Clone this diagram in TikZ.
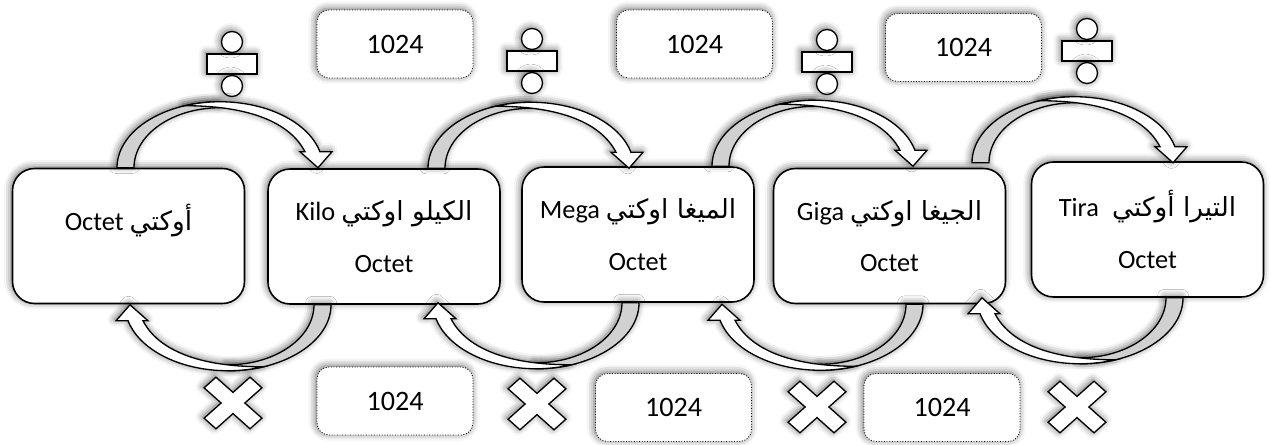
\documentclass[tikz,border=0pt]{standalone}
\usepackage{fontspec}
\setmainfont{Carlito}
\TeXXeTstate=1
\newfontfamily\arabicfont[Script=Arabic]{DejaVu Sans}
\usetikzlibrary{calc,shadows.blur}

\tikzset{
    glow/.style={blur shadow={shadow xshift=-0.8pt, shadow yshift=0.8pt, shadow blur radius=4pt, shadow opacity=60}},
    unitbox/.style={rectangle, draw, line width=0.9pt, fill=white, rounded corners=0.44cm,
        minimum width=4.64cm, minimum height=2.7cm, align=center,
        font=\fontsize{15}{29.5}\selectfont, glow},
    factorbox/.style={rectangle, draw, densely dotted, line width=0.5pt, fill=white, rounded corners=0.24cm,
        minimum width=3.12cm, minimum height=1.36cm, font=\fontsize{16}{19}\selectfont, glow},
    overarc/.pic={
        % shadows
        \path[glow, fill=white] (-8,0) arc[start angle=180, end angle=270, x radius=103, y radius=66]
            -- (95,-60) arc[start angle=270, end angle=180, x radius=86, y radius=60] -- cycle;
        \path[glow, fill=white] (59.8,-62) arc[start angle=250, end angle=346, x radius=103, y radius=66]
            -- (207,-16) -- (193,0) -- (175,-16) -- (180,-16) .. controls (165,-45) and (125,-62) .. (59.8,-62) -- cycle;
        % back face
        \filldraw[fill=black!18, line width=0.75pt] (-8,0) arc[start angle=180, end angle=270, x radius=103, y radius=66]
            -- (95,-60) arc[start angle=270, end angle=180, x radius=86, y radius=60] -- cycle;
        % front face with head
        \filldraw[fill=white, line width=0.75pt, line join=miter] (59.8,-62) arc[start angle=250, end angle=346, x radius=103, y radius=66]
            -- (207,-16) -- (193,0) -- (175,-16) -- (180,-16) .. controls (165,-45) and (125,-62) .. (59.8,-62) -- cycle;
    },
    divsign/.pic={
        \filldraw[fill=white, line width=0.75pt, glow] (-25,-10) rectangle (25,10);
        \filldraw[fill=white, line width=0.75pt, glow] (0,-22) circle[radius=10.5];
        \filldraw[fill=white, line width=0.75pt, glow] (0,22) circle[radius=10.5];
    },
    mulsign/.pic={
        \filldraw[fill=white, line width=0.75pt, glow, xscale=1.12, rotate=45]
            (7.5,7.5) -- (7.5,29) -- (-7.5,29) -- (-7.5,7.5) -- (-29,7.5) -- (-29,-7.5) -- (-7.5,-7.5)
            -- (-7.5,-29) -- (7.5,-29) -- (7.5,-7.5) -- (29,-7.5) -- (29,7.5) -- cycle;
    },
}

\begin{document}
\begin{tikzpicture}[x=0.02cm, y=-0.02cm]
    \useasboundingbox (0,0) rectangle (1271,444);

    % units
    \node[unitbox] (b1) at (128.5,236) {\raisebox{9pt}[\height][\depth]{Octet {\arabicfont\beginR أوكتي\endR}}};
    \node[unitbox] (b2) at (384,236.5) {Kilo {\arabicfont\beginR الكيلو اوكتي\endR}\\Octet};
    \node[unitbox] (b3) at (638,234.5) {Mega {\arabicfont\beginR الميغا اوكتي\endR}\\Octet};
    \node[unitbox] (b4) at (889.5,236) {Giga {\arabicfont\beginR الجيغا اوكتي\endR}\\Octet};
    \node[unitbox] (b5) at (1147.5,229.5) {Tira\enspace{\arabicfont\beginR التيرا أوكتي\endR}\\Octet};

    % divide by 1024
    \node[factorbox] (t1) at (395,44) {1024};
    \node[factorbox] (t2) at (694.5,44) {1024};
    \node[factorbox] (t3) at (963.5,47.5) {1024};
    \pic at (232,64) {divsign};
    \pic at (532,61) {divsign};
    \pic at (827,62) {divsign};
    \pic at (1087,51) {divsign};

    % multiply by 1024
    \node[factorbox] (d1) at (395,401) {1024};
    \node[factorbox] (d2) at (673.5,407.5) {1024};
    \node[factorbox] (d3) at (942,407.5) {1024};
    \pic at (233,403) {mulsign};
    \pic at (537,404) {mulsign};
    \pic at (817,407) {mulsign};
    \pic at (1077,407) {mulsign};

    % arrows
    \pic at ($(b1.north)+(-3.5,0)$) {overarc};
    \pic at ($(b2.north)+(52,0)$) {overarc};
    \pic at ($(b3.north)+(82,0)$) {overarc};
    \pic at ($(b4.north)+(90.5,-5)$) {overarc};
    \pic[rotate=180] at ($(b2.south)+(-61,0)$) {overarc};
    \pic[rotate=180] at ($(b3.south)+(-7,0)$) {overarc};
    \pic[rotate=180] at ($(b4.south)+(25.5,0)$) {overarc};
    \pic[rotate=180] at ($(b5.south)+(27.5,0)$) {overarc};
\end{tikzpicture}
\end{document}
